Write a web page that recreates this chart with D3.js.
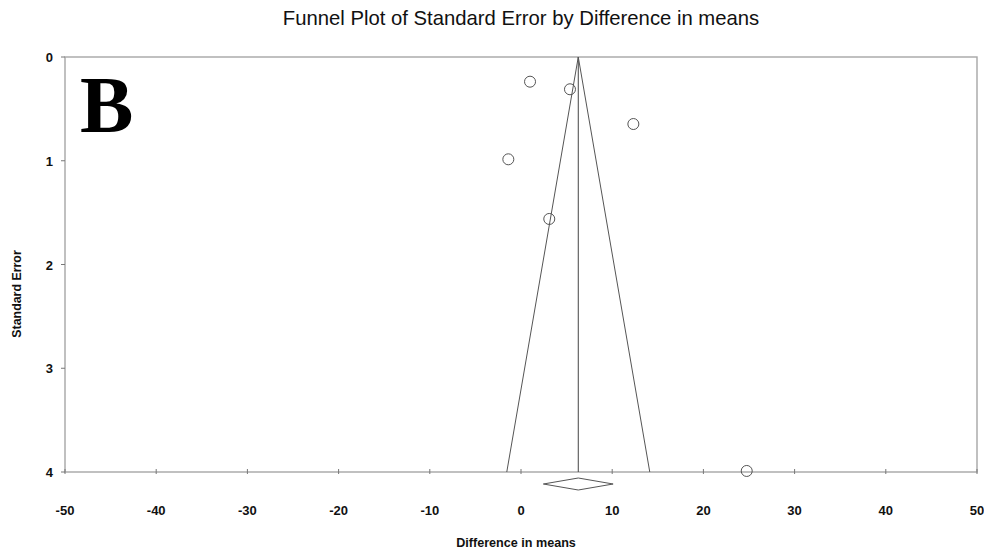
<!DOCTYPE html>
<html><head><meta charset="utf-8">
<script src="https://cdn.jsdelivr.net/npm/d3@7"></script>
<style>body{margin:0;background:#fff;}svg{display:block;font-family:"Liberation Sans",Arial,sans-serif;}</style>
</head><body>
<svg id="c" width="984" height="550"></svg>
<script>
const studyDiff = [0.99, 5.37, 12.32, -1.39, 3.1, 24.75];
const studySE = [0.238, 0.311, 0.646, 0.986, 1.561, 3.99];
const pooledMean = 6.28;
const pooledLow = 2.45;
const pooledHigh = 10.1;
const xTicks = [-50, -40, -30, -20, -10, 0, 10, 20, 30, 40, 50];
const yTicks = [0, 1, 2, 3, 4];
const seMax = 4;

const svg = d3.select("#c");
const L = 65, R = 977, T = 57, B = 472;
const x = d3.scaleLinear().domain([-50, 50]).range([L, R]);
const y = d3.scaleLinear().domain([0, 4]).range([T, B]);

svg.append("text").attr("x", 521).attr("y", 25).attr("text-anchor", "middle")
  .attr("font-size", 20.3).attr("fill", "#111").text("Funnel Plot of Standard Error by Difference in means");

// frame
svg.append("rect").attr("x", L).attr("y", T).attr("width", R - L).attr("height", B - T)
  .attr("fill", "none").attr("stroke", "#a6a6a6").attr("stroke-width", 1.4);

const gx = svg.append("g");
xTicks.forEach(t => {
  gx.append("line").attr("x1", x(t)).attr("x2", x(t)).attr("y1", B - 3).attr("y2", B + 2).attr("stroke", "#777");
  gx.append("text").attr("x", x(t)).attr("y", 515).attr("text-anchor", "middle")
    .attr("font-size", 13).attr("font-weight", "bold").attr("fill", "#111").text(t);
});
const gy = svg.append("g");
yTicks.forEach(t => {
  gy.append("line").attr("x1", L - 4).attr("x2", L).attr("y1", y(t)).attr("y2", y(t)).attr("stroke", "#777");
  gy.append("text").attr("x", 53).attr("y", y(t) + 5).attr("text-anchor", "end")
    .attr("font-size", 13).attr("font-weight", "bold").attr("fill", "#111").text(t);
});

svg.append("text").attr("x", 516).attr("y", 547).attr("text-anchor", "middle")
  .attr("font-size", 12.6).attr("font-weight", "bold").attr("fill", "#111").text("Difference in means");
svg.append("text").attr("transform", "translate(21,294) rotate(-90)").attr("text-anchor", "middle")
  .attr("font-size", 12.4).attr("font-weight", "bold").attr("fill", "#111").text("Standard Error");

// funnel
svg.append("line").attr("x1", x(pooledMean)).attr("x2", x(pooledMean)).attr("y1", y(0)).attr("y2", y(seMax))
  .attr("stroke", "#444").attr("stroke-width", 1);
svg.append("polyline").attr("points", [
  [x(pooledMean - 1.96 * seMax), y(seMax)], [x(pooledMean), y(0)], [x(pooledMean + 1.96 * seMax), y(seMax)]
].map(p => p.join(",")).join(" ")).attr("fill", "none").attr("stroke", "#555").attr("stroke-width", 1);

// diamond
const dy = 484;
svg.append("polygon").attr("points", [
  [x(pooledLow), dy], [x(pooledMean), dy - 6], [x(pooledHigh), dy], [x(pooledMean), dy + 6]
].map(p => p.join(",")).join(" ")).attr("fill", "#fff").attr("stroke", "#555").attr("stroke-width", 1);

svg.append("g").selectAll("circle").data(studyDiff).join("circle")
  .attr("cx", d => x(d)).attr("cy", (d, i) => y(studySE[i])).attr("r", 5.5)
  .attr("fill", "none").attr("stroke", "#555").attr("stroke-width", 1);

svg.append("text").attr("x", 80).attr("y", 132).attr("font-family", "'Liberation Serif','Times New Roman',serif")
  .attr("font-size", 80).attr("font-weight", "bold").attr("fill", "#000").text("B");
</script>
</body></html>
